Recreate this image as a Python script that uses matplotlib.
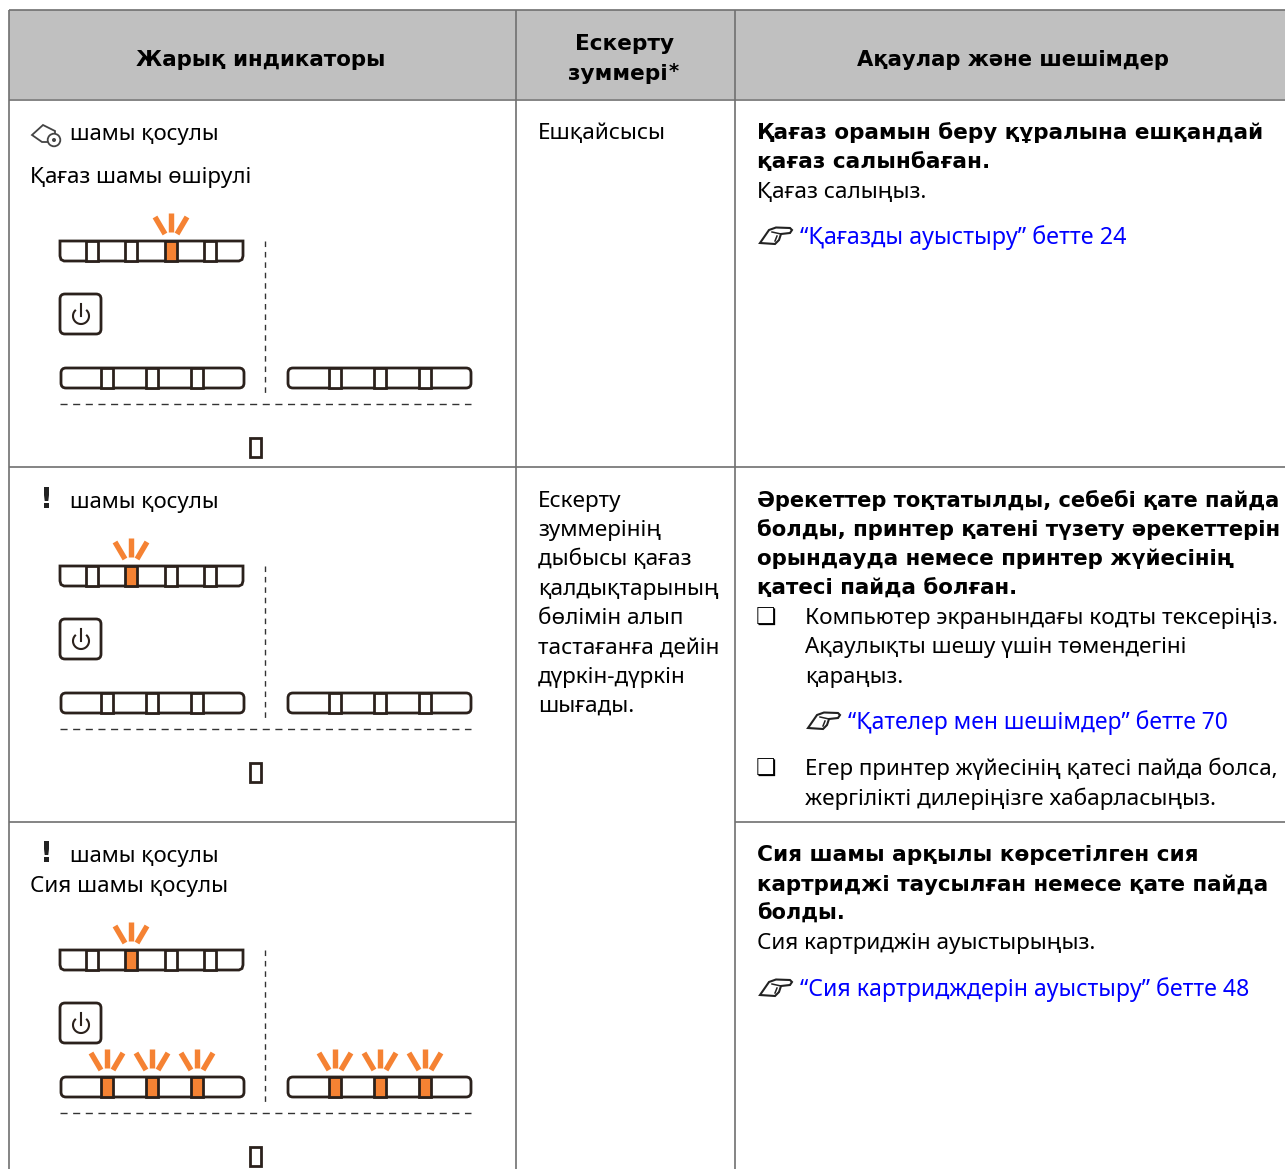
import matplotlib
matplotlib.use("Agg")
import matplotlib.pyplot as plt
from matplotlib.patches import Rectangle, FancyBboxPatch, Arc, Circle, Polygon

# ---- text content
HEADERS = ["Жарық индикаторы", "Ескерту", "зуммері", "Ақаулар және шешімдер"]
LIGHT_ROW1 = ["шамы қосулы", "Қағаз шамы өшірулі"]
LIGHT_ROW2 = ["шамы қосулы"]
LIGHT_ROW3 = ["шамы қосулы", "Сия шамы қосулы"]
BUZZER_ROW1 = "Ешқайсысы"
BUZZER_ROW2 = ["Ескерту", "зуммерінің", "дыбысы қағаз", "қалдықтарының", "бөлімін алып",
               "тастағанға дейін", "дүркін-дүркін", "шығады."]
FIX1_BOLD = ["Қағаз орамын беру құралына ешқандай", "қағаз салынбаған."]
FIX1_TEXT = "Қағаз салыңыз."
FIX1_LINK = "“Қағазды ауыстыру” бетте 24"
FIX2_BOLD = ["Әрекеттер тоқтатылды, себебі қате пайда", "болды, принтер қатені түзету әрекеттерін",
             "орындауда немесе принтер жүйесінің", "қатесі пайда болған."]
FIX2_ITEM1 = ["Компьютер экранындағы кодты тексеріңіз.", "Ақаулықты шешу үшін төмендегіні", "қараңыз."]
FIX2_LINK = "“Қателер мен шешімдер” бетте 70"
FIX2_ITEM2 = ["Егер принтер жүйесінің қатесі пайда болса,", "жергілікті дилеріңізге хабарласыңыз."]
FIX3_BOLD = ["Сия шамы арқылы көрсетілген сия", "картриджі таусылған немесе қате пайда", "болды."]
FIX3_TEXT = "Сия картриджін ауыстырыңыз."
FIX3_LINK = "“Сия картридждерін ауыстыру” бетте 48"

# lit cells on the panel: top bar index, lower bar indices
PANEL_TOP_LIT = [2, 1, 1]
PANEL_LOW_LIT = [[], [], [0, 1, 2]]

INK = "#2b211c"
ORANGE = "#f58233"
GRID = "#707070"
FS = 16.2
FS_B = 15.6

fig = plt.figure(figsize=(12.85, 11.69), dpi=100)
ax = fig.add_axes([0, 0, 1, 1])
ax.set_xlim(0, 1285)
ax.set_ylim(1169, 0)
ax.axis("off")
renderer = fig.canvas.get_renderer()


def txt(x, y, s, bold=False, color="black", ha="left", width=None):
    if bold:
        t = ax.text(x, y, s, fontsize=FS_B, family="DejaVu Sans", weight="bold",
                    color=color, ha=ha, va="baseline")
    else:
        t = ax.text(x, y, s, fontsize=FS, family="Noto Sans", color=color, ha=ha, va="baseline")
    # width measured on the reference, squeeze the font to it
    if width:
        w = t.get_window_extent(renderer).width
        t.set_fontsize(t.get_fontsize() * width / w)
    return t


def lines(x, ys, items, bold=False, widths=None):
    widths = widths or [None] * len(items)
    for y, s, w in zip(ys, items, widths):
        txt(x, y, s, bold=bold, width=w)


def hand(x, y):
    pts = [(1, -1), (10, -14), (17, -16.5), (31, -16), (33, -14), (31, -11), (22, -10),
           (20, -4), (16, 0), (1, -1)]
    ax.add_patch(Polygon([(x + a, y + b) for a, b in pts], closed=True, fc="white", ec="#222222", lw=1.5))
    ax.plot([x + 13, x + 22], [y - 12, y - 10], color="#222222", lw=1.1)
    ax.plot([x + 18, x + 16], [y - 8, y - 3], color="#222222", lw=1.1)


def link(x, y, s, width):
    hand(x, y)
    txt(x + 41, y, s, color="#0000ff", width=width)


def rays(cx, top):
    for dx0, y0, dx1, y1 in [(-16, -24, -6, -7), (0, -28, 0, -9), (16, -24, 6, -7)]:
        ax.plot([cx + dx0, cx + dx1], [top + y0, top + y1], color=ORANGE, lw=3.9, solid_capstyle="butt")


def cell(x, top, bottom, lit):
    ax.add_patch(Rectangle((x, top), 12, bottom - top, fc=ORANGE if lit else "white",
                           ec=INK, lw=2, zorder=3))
    if lit:
        rays(x + 6, top)


def panel(dy, top_lit, low_lit):
    # top bar: flat top, rounded lower corners
    xs = [60, 243, 243, 242, 239, 64, 61, 60, 60]
    ys = [241, 241, 256, 259.5, 261, 261, 259.5, 256, 241]
    ax.add_patch(Polygon([(a, b + dy) for a, b in zip(xs, ys)], closed=True, fc="white", ec=INK, lw=2))
    for i, x in enumerate([86, 125, 165, 204]):
        cell(x, 241 + dy, 261 + dy, i == top_lit)

    # power button
    ax.add_patch(FancyBboxPatch((60, 294 + dy), 41, 40, boxstyle="round,pad=0,rounding_size=5",
                                fc="white", ec=INK, lw=2))
    ax.add_patch(Arc((81, 316 + dy), 16, 16, theta1=-50, theta2=230, ec=INK, lw=1.5))
    ax.plot([81, 81], [304 + dy, 316 + dy], color=INK, lw=1.5)

    # two lower bars
    for x0, seps in [(61, [101, 146, 191]), (288, [329, 374, 419])]:
        ax.add_patch(FancyBboxPatch((x0, 368 + dy), 183, 20, boxstyle="round,pad=0,rounding_size=5",
                                    fc="white", ec=INK, lw=2))
        for i, x in enumerate(seps):
            cell(x, 368 + dy, 388 + dy, i in low_lit)

    ax.plot([265, 265], [241 + dy, 393 + dy], color="#333333", lw=1, dashes=(4, 3.5))
    ax.plot([60, 471], [404 + dy, 404 + dy], color="#333333", lw=1, dashes=(5.1, 4))
    ax.add_patch(Rectangle((250, 438 + dy), 11, 19, fc="white", ec=INK, lw=2))


# ---- table frame
ax.add_patch(Rectangle((9, 10), 1290, 89, fc="#c0c0c0", ec="none"))
for x0, y0, x1, y1 in [(9, 10, 1285, 10), (9, 99.5, 1285, 99.5), (9, 10, 9, 1169), (516, 10, 516, 1169),
                       (735, 10, 735, 1169), (9, 467, 1285, 467), (9, 822, 516, 822), (735, 822, 1285, 822)]:
    ax.plot([x0, x1], [y0, y1], color=GRID, lw=1.2, solid_capstyle="butt")

txt(261, 66, HEADERS[0], bold=True, ha="center", width=250)
txt(625, 50, HEADERS[1], bold=True, ha="center")
txt(568, 80, HEADERS[2], bold=True)
ax.text(669, 77, "*", fontsize=14, family="DejaVu Sans", weight="bold", va="baseline")
txt(1013, 66, HEADERS[3], bold=True, ha="center", width=313)

# ---- left column
ax.add_patch(Polygon([(32, 135), (43, 125), (55, 131), (55, 142), (42, 142)], closed=True,
                     fc="white", ec="#444444", lw=1.3))
ax.add_patch(Circle((54, 140), 6.3, fc="white", ec="#444444", lw=1.3))
ax.add_patch(Circle((54, 140), 2, fc="#444444", ec="none"))
lines(70, [140], LIGHT_ROW1[:1], widths=[149])
lines(30, [183], LIGHT_ROW1[1:], widths=[222])
for y in (508, 862):
    ax.text(46, y, "!", fontsize=20.5, family="DejaVu Sans", weight="bold", ha="center", va="baseline",
            color="#222222")
lines(70, [508], LIGHT_ROW2, widths=[149])
lines(70, [862], LIGHT_ROW3[:1], widths=[149])
lines(30, [892], LIGHT_ROW3[1:], widths=[198])

for dy, top_lit, low_lit in zip([0, 325, 709], PANEL_TOP_LIT, PANEL_LOW_LIT):
    panel(dy, top_lit, low_lit)

# ---- buzzer column
txt(538, 139, BUZZER_ROW1)
lines(538, [507, 536, 565, 595, 624, 654, 683, 712], BUZZER_ROW2)

# ---- causes and remedies
lines(757, [139, 168], FIX1_BOLD, bold=True, widths=[508, 233])
txt(757, 198, FIX1_TEXT)
link(759, 244, FIX1_LINK, 327)

lines(757, [507, 536, 565, 595], FIX2_BOLD, bold=True, widths=[522, 522, 478, 261])
for y in (625, 776):
    ax.text(756, y, "\u274f", fontsize=16.5, family="DejaVu Sans", va="baseline", color="black")
lines(805, [624, 653, 683], FIX2_ITEM1, widths=[473, 382, 98])
link(807, 729, FIX2_LINK, 380)
lines(805, [775, 805], FIX2_ITEM2, widths=[473, 411])

lines(757, [861, 891, 920], FIX3_BOLD, bold=True, widths=[441, 511, 88])
txt(757, 949, FIX3_TEXT)
link(759, 996, FIX3_LINK, 449)

fig.savefig("out.png", dpi=100, facecolor="white")
